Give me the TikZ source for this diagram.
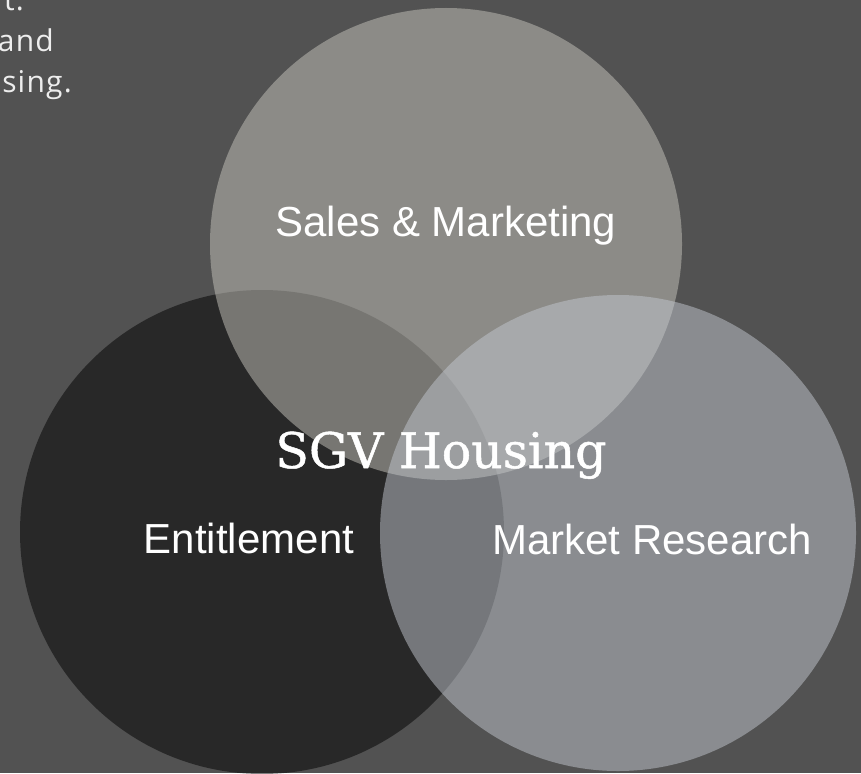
\documentclass[tikz,border=0pt]{standalone}
\usepackage{fontspec}
\setmainfont{Liberation Sans}
\newfontfamily\titlefont[FakeBold=1]{DejaVu Serif}
\newfontfamily\blurbfont[LetterSpace=4]{Open Sans}
\usepackage{tikz}
\usetikzlibrary{positioning}
\definecolor{SgvBack}{HTML}{525252}
\definecolor{SgvSand}{HTML}{C6C4BC}
\definecolor{SgvSteel}{HTML}{C2C7CF}
\definecolor{SgvInk}{HTML}{000000}
\definecolor{SgvBlurb}{HTML}{EDEDED}
\tikzset{
  venn/.style={circle,inner sep=0pt,draw=none,fill opacity=0.5},
  setlabel/.style={text=white,anchor=base,inner sep=0pt,font=\fontsize{42}{50}\selectfont},
  titlelabel/.style={text=white,anchor=base,inner sep=0pt,font=\titlefont\fontsize{49}{58}\selectfont},
  blurb/.style={text=SgvBlurb,anchor=base east,inner sep=0pt,font=\blurbfont\fontsize{30}{41}\selectfont}
}

\begin{document}
\begin{tikzpicture}[x=1pt,y=-1pt]
\fill[SgvBack] (0,0) rectangle (861,773);
\useasboundingbox (0,0) rectangle (861,773);

% the three sets, darkest at the back
\node[venn,fill=SgvInk,minimum size=484pt] (ent) at (262,532) {};
\node[venn,fill=SgvSand,minimum size=472pt] (sales) at (446,244) {};
\node[venn,fill=SgvSteel,minimum size=476pt] (mkt) at (618,533) {};

\node[setlabel] (saleslbl) at (446,236) {Sales \& Marketing};
\node[setlabel] (entlbl) at (249,553) {Entitlement};
\node[setlabel] (mktlbl) at (652,554) {Market Research};
\node[titlelabel] (title) at (441,468) {SGV Housing};

% tail of the intro text on the left
\node[blurb] (blurbA) at (24,11) {t.};
\node[blurb] (blurbB) at (54,52) {and};
\node[blurb] (blurbC) at (72,93) {sing.};
\end{tikzpicture}
\end{document}
